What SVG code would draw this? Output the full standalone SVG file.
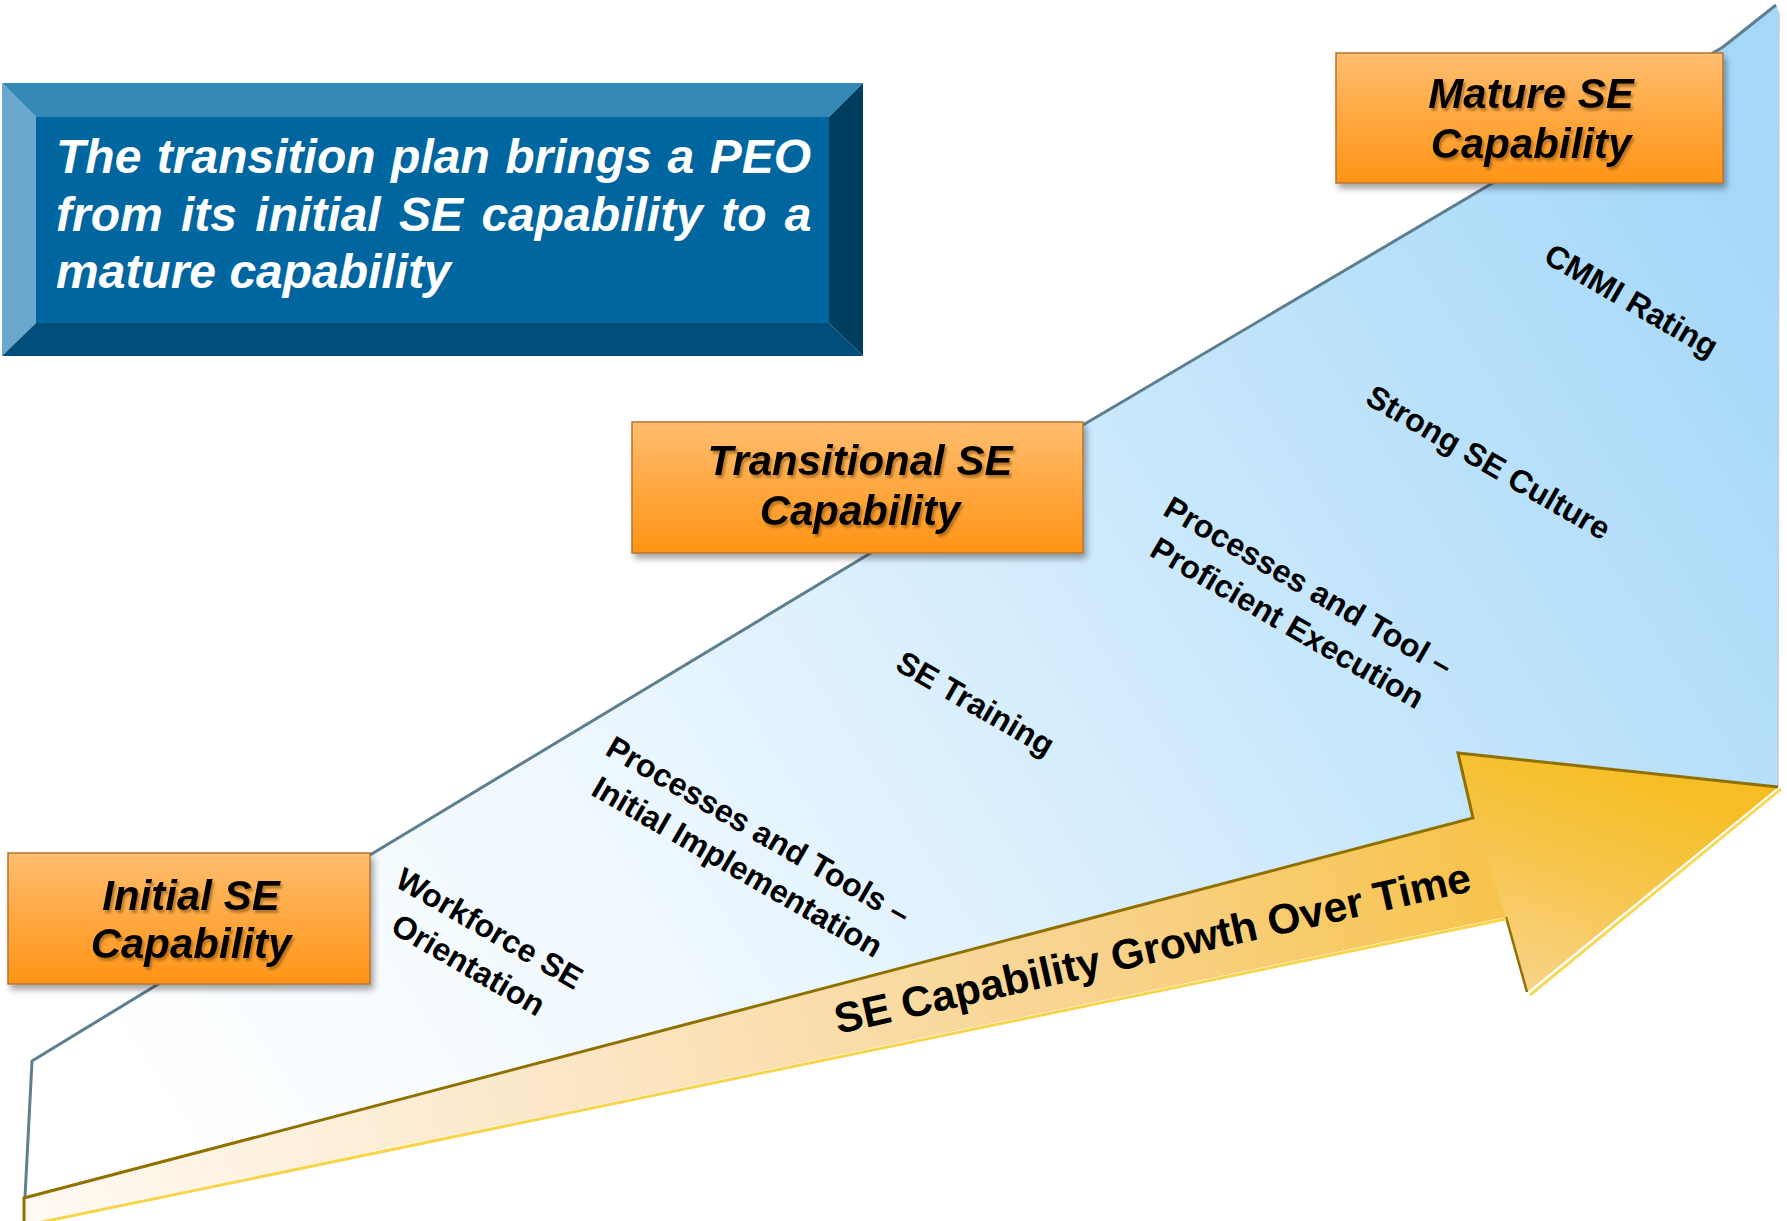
<svg xmlns="http://www.w3.org/2000/svg" width="1787" height="1221" viewBox="0 0 1787 1221">
<defs>
<linearGradient id="wedgeGrad" gradientUnits="userSpaceOnUse" x1="150" y1="1150" x2="1700" y2="150">
<stop offset="0" stop-color="#ffffff"/>
<stop offset="0.3" stop-color="#eef8fe"/>
<stop offset="0.6" stop-color="#cfeafc"/>
<stop offset="1" stop-color="#a5d8f8"/>
</linearGradient>
<linearGradient id="shaftGrad" gradientUnits="userSpaceOnUse" x1="24" y1="1210" x2="1700" y2="800">
<stop offset="0" stop-color="#fffaf4"/>
<stop offset="0.35" stop-color="#fbe5c2"/>
<stop offset="0.65" stop-color="#f8d28a"/>
<stop offset="0.85" stop-color="#f7c552"/>
<stop offset="1" stop-color="#f6be2a"/>
</linearGradient>
<linearGradient id="headGrad" gradientUnits="userSpaceOnUse" x1="1600" y1="760" x2="1520" y2="990">
<stop offset="0" stop-color="#f6be24"/>
<stop offset="0.5" stop-color="#f7c650"/>
<stop offset="1" stop-color="#f8d38a"/>
</linearGradient>
<linearGradient id="orangeGrad" x1="0" y1="0" x2="0" y2="1">
<stop offset="0" stop-color="#ffbe70"/>
<stop offset="0.5" stop-color="#ffa840"/>
<stop offset="1" stop-color="#ff9416"/>
</linearGradient>
<filter id="boxShadow" x="-10%" y="-20%" width="125%" height="150%">
<feDropShadow dx="3" dy="5" stdDeviation="3" flood-color="#000" flood-opacity="0.35"/>
</filter>
<filter id="textShadow" x="-10%" y="-20%" width="125%" height="150%">
<feDropShadow dx="2" dy="3" stdDeviation="1" flood-color="#8a5410" flood-opacity="0.6"/>
</filter>
<style>
.boxText{font-family:"Liberation Sans",Arial,sans-serif;font-weight:bold;font-style:italic;font-size:42px;fill:#000;text-anchor:middle}
.sumText{font-family:"Liberation Sans",Arial,sans-serif;font-weight:bold;font-style:italic;font-size:48px;fill:#fff}
.lbl{font-family:"Liberation Sans",Arial,sans-serif;font-weight:bold;font-size:32px;fill:#000;text-anchor:middle}
.arrowText{font-family:"Liberation Sans",Arial,sans-serif;font-weight:bold;font-size:42.5px;fill:#000}
.orange{fill:url(#orangeGrad);stroke:#b8742e;stroke-width:1.5}
</style>
</defs>
<rect width="1787" height="1221" fill="#ffffff"/>

<g id="growth-wedge">
<polygon points="32,1061 370,855 1083,425 1723,47 1776,5 1779,12 1778,787 24,1198 25,1197" fill="url(#wedgeGrad)"/>
<polyline points="25,1197 32,1061 370,855 1083,425 1723,47 1776,5" fill="none" stroke="#5d7e8f" stroke-width="3" stroke-linejoin="round"/>
<line x1="1779" y1="12" x2="1778" y2="787" stroke="#c4ccd4" stroke-width="1.5"/>
</g>

<g id="connectors">
<g id="growth-arrow">
<polygon points="24,1221 24,1198 1473,818 1458,753 1778,787 1527,992 1506,917 37,1221" fill="url(#shaftGrad)"/>
<polygon points="1473,818 1458,753 1778,787 1527,992 1506,917" fill="url(#headGrad)"/>
<polyline points="24,1221 24,1198 1473,818 1458,753 1778,787" fill="none" stroke="#8f7000" stroke-width="3" stroke-linejoin="miter"/>
<line x1="1527" y1="992" x2="1506" y2="917" stroke="#8f7000" stroke-width="2.5"/>
<polyline points="1781,789 1530,995" fill="none" stroke="#f8d85a" stroke-width="3"/>
<line x1="1506" y1="919" x2="37" y2="1223" stroke="#f8d44a" stroke-width="3"/>
<text class="arrowText" x="838" y="1034" transform="rotate(-12.7 838 1034)">SE Capability Growth Over Time</text>
</g>
</g>

<g id="summary-box">
<polygon points="2,83 863,83 829,117 36,117" fill="#3489b7"/>
<polygon points="2,83 36,117 36,323 2,356" fill="#69a7cc"/>
<polygon points="863,83 863,356 829,323 829,117" fill="#003d5e"/>
<polygon points="2,356 36,323 829,323 863,356" fill="#004e79"/>
<rect x="36" y="117" width="793" height="206" fill="#0066a0"/>
<text class="sumText" x="56" y="173" word-spacing="2.2">The transition plan brings a PEO</text>
<text class="sumText" x="56" y="231" word-spacing="5">from its initial SE capability to a</text>
<text class="sumText" x="56" y="288">mature capability</text>
</g>

<g id="node-initial">
<rect class="orange" x="8" y="853" width="362" height="131" filter="url(#boxShadow)"/>
<g filter="url(#textShadow)">
<text class="boxText" x="191" y="910">Initial SE</text>
<text class="boxText" x="191" y="958">Capability</text>
</g>
</g>

<g id="node-transitional">
<rect class="orange" x="632" y="422" width="451" height="131" filter="url(#boxShadow)"/>
<g filter="url(#textShadow)">
<text class="boxText" x="860" y="475">Transitional SE</text>
<text class="boxText" x="860" y="525">Capability</text>
</g>
</g>

<g id="node-mature">
<rect class="orange" x="1336" y="53" width="387" height="130" filter="url(#boxShadow)"/>
<g filter="url(#textShadow)">
<text class="boxText" x="1531" y="108">Mature SE</text>
<text class="boxText" x="1531" y="158">Capability</text>
</g>
</g>

<g id="label-workforce" transform="translate(484,938) rotate(30)">
<text class="lbl" x="0" y="0">Workforce SE</text>
<text class="lbl" x="0" y="42">Orientation</text>
</g>
<g id="label-processes-initial" transform="translate(753,840) rotate(30)">
<text class="lbl" x="0" y="0">Processes and Tools –</text>
<text class="lbl" x="0" y="42">Initial Implementation</text>
</g>
<g id="label-training" transform="translate(970,713) rotate(30)">
<text class="lbl" x="0" y="0">SE Training</text>
</g>
<g id="label-processes-proficient" transform="translate(1303,596) rotate(30)">
<text class="lbl" x="0" y="0">Processes and Tool –</text>
<text class="lbl" x="0" y="42">Proficient Execution</text>
</g>
<g id="label-culture" transform="translate(1483,472) rotate(30)">
<text class="lbl" x="0" y="0">Strong SE Culture</text>
</g>
<g id="label-cmmi" transform="translate(1626,310) rotate(30)">
<text class="lbl" x="0" y="0">CMMI Rating</text>
</g>
</svg>
